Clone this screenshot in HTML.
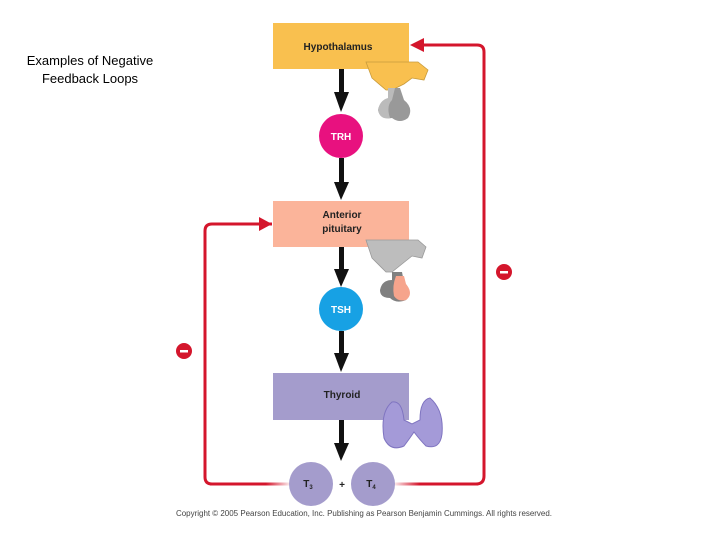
<!DOCTYPE html>
<html><head><meta charset="utf-8"><style>
html,body{margin:0;padding:0;background:#fff;}
svg{display:block;}
</style></head><body>
<svg width="720" height="540" viewBox="0 0 720 540" xmlns="http://www.w3.org/2000/svg" font-family="Liberation Sans, sans-serif">
<defs>
<linearGradient id="gl" gradientUnits="userSpaceOnUse" x1="205" y1="0" x2="292" y2="0"><stop offset="0.7" stop-color="#d4162c"/><stop offset="1" stop-color="#d4162c" stop-opacity="0"/></linearGradient>
<linearGradient id="gr" gradientUnits="userSpaceOnUse" x1="484" y1="0" x2="392" y2="0"><stop offset="0.7" stop-color="#d4162c"/><stop offset="1" stop-color="#d4162c" stop-opacity="0"/></linearGradient>
</defs>
<text x="90" y="65" font-size="13" text-anchor="middle" fill="#000">Examples of Negative</text>
<text x="90" y="83" font-size="13" text-anchor="middle" fill="#000">Feedback Loops</text>

<!-- red feedback lines -->
<path d="M210 484 H292" stroke="url(#gl)" stroke-width="3" fill="none"/>
<path d="M272 224 H212 Q205 224 205 231 V477 Q205 484 212 484 H215" stroke="#d4162c" stroke-width="3" fill="none"/>
<path d="M392 484 H478" stroke="url(#gr)" stroke-width="3" fill="none"/>
<path d="M476 484 Q484 484 484 476 V52 Q484 45 477 45 H420" stroke="#d4162c" stroke-width="3" fill="none"/>
<polygon points="410,45 424,38 424,52" fill="#d4162c"/>
<polygon points="272,224 259,217 259,231" fill="#d4162c"/>
<circle cx="504" cy="272" r="8" fill="#d4162c"/><rect x="500" y="271" width="8" height="2.5" fill="#fff"/>
<circle cx="184" cy="351" r="8" fill="#d4162c"/><rect x="180" y="350" width="8" height="2.5" fill="#fff"/>

<!-- black arrows -->
<g fill="#111">
<rect x="339" y="69" width="5" height="25"/><polygon points="334,92 349,92 341,112"/>
<rect x="339" y="158" width="5" height="26"/><polygon points="334,182 349,182 341,200"/>
<rect x="339" y="247" width="5" height="24"/><polygon points="334,269 349,269 341,287"/>
<rect x="339" y="331" width="5" height="24"/><polygon points="334,353 349,353 341,372"/>
<rect x="339" y="420" width="5" height="26"/><polygon points="334,443 349,443 341,461"/>
</g>

<!-- boxes -->
<rect x="273" y="23" width="136" height="46" fill="#f9c04f"/>
<text x="338" y="50" font-size="10" font-weight="bold" text-anchor="middle" fill="#222">Hypothalamus</text>
<rect x="273" y="201" width="136" height="46" fill="#fbb49a"/>
<text x="342" y="218" font-size="10" font-weight="bold" text-anchor="middle" fill="#222">Anterior</text>
<text x="342" y="232" font-size="10" font-weight="bold" text-anchor="middle" fill="#222">pituitary</text>
<rect x="273" y="373" width="136" height="47" fill="#a49ccc"/>
<text x="342" y="398" font-size="10" font-weight="bold" text-anchor="middle" fill="#222">Thyroid</text>

<!-- hypothalamus gland -->
<path d="M366 62 H418 L428 70 L424 80 L412 78 L404 84 L392 90 H386 L372 78 Z" fill="#f9c04f" stroke="#c89b3c" stroke-width="0.8"/>
<path d="M388 88 L400 88 L404 100 Q414 108 408 118 Q400 124 392 118 Q380 120 378 110 Q380 100 390 98 Z" fill="#999"/>
<path d="M388 88 L395 88 L392 100 Q386 106 390 118 Q380 120 378 110 Q380 100 388 98 Z" fill="#bbb"/>
<!-- pituitary gland -->
<path d="M366 240 H418 L426 247 L422 258 L412 256 L402 264 L392 272 H386 L372 258 Z" fill="#bdbdbd" stroke="#999" stroke-width="0.8"/>
<path d="M392 272 L402 272 L404 282 Q414 292 406 300 Q396 304 390 298 Q380 298 380 290 Q382 280 392 280 Z" fill="#808080"/>
<path d="M396 276 L404 276 L406 284 Q414 294 406 300 Q398 302 394 296 Q392 286 396 276 Z" fill="#f6a48c"/>
<!-- thyroid -->
<path d="M392 402 Q380 412 384 438 Q390 452 404 446 Q410 438 414 432 Q420 440 426 446 Q440 450 442 434 Q444 410 430 398 Q420 400 420 420 L412 424 L404 420 Q402 400 392 402 Z" fill="#a49ad8" stroke="#7f74c0" stroke-width="1"/>

<!-- circles -->
<circle cx="341" cy="136" r="22" fill="#e8117f"/>
<text x="341" y="140" font-size="10" font-weight="bold" text-anchor="middle" fill="#fff">TRH</text>
<circle cx="341" cy="309" r="22" fill="#17a1e4"/>
<text x="341" y="313" font-size="10" font-weight="bold" text-anchor="middle" fill="#fff">TSH</text>
<circle cx="311" cy="484" r="22" fill="#a49ccc"/>
<text x="308" y="487" font-size="10" font-weight="bold" fill="#222" text-anchor="middle">T<tspan font-size="6" dy="2">3</tspan></text>
<text x="342" y="488" font-size="10" font-weight="bold" text-anchor="middle" fill="#222">+</text>
<circle cx="373" cy="484" r="22" fill="#a49ccc"/>
<text x="371" y="487" font-size="10" font-weight="bold" fill="#222" text-anchor="middle">T<tspan font-size="6" dy="2">4</tspan></text>

<text x="364" y="516" font-size="8" text-anchor="middle" fill="#444" textLength="376" lengthAdjust="spacingAndGlyphs">Copyright © 2005 Pearson Education, Inc. Publishing as Pearson Benjamin Cummings. All rights reserved.</text>
</svg>
</body></html>
